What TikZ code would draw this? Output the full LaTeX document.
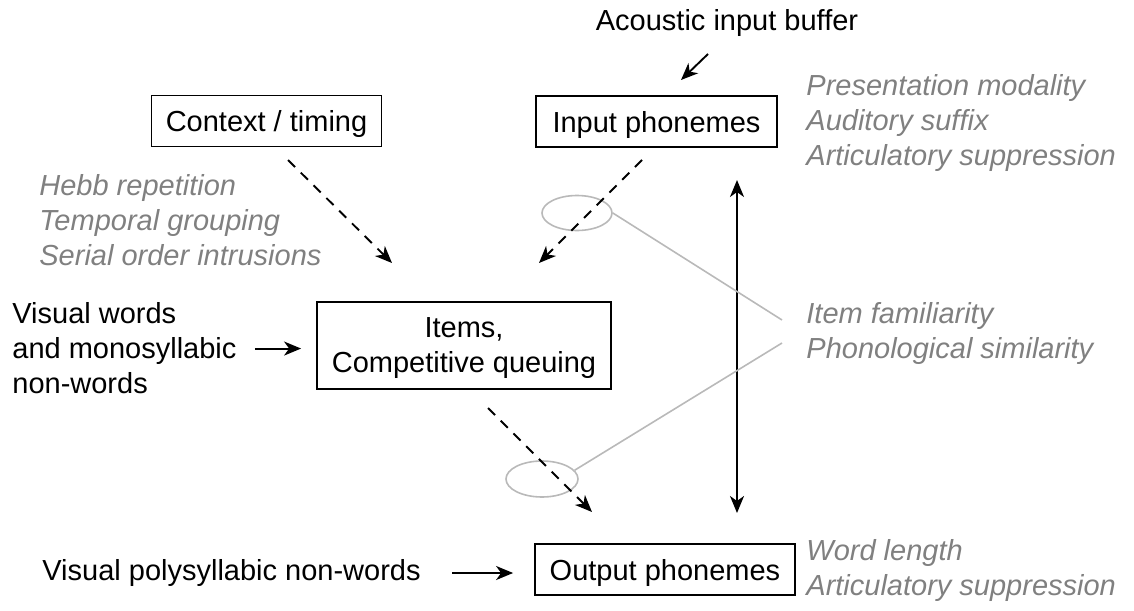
\documentclass[tikz,border=0pt]{standalone}
\usepackage{fontspec}
\setmainfont{Liberation Sans}
\usetikzlibrary{arrows.meta,shapes.geometric}
\definecolor{notegray}{RGB}{128,128,128}
\definecolor{linkgray}{RGB}{185,185,185}

\begin{document}
\begin{tikzpicture}[
  x=0.5pt,y=-0.5pt,
  >={Stealth[length=8.5pt,width=7pt,inset=2.5pt]},
  every node/.style={font=\fontsize{14.5}{17.5}\selectfont,inner sep=0pt},
  box/.style={draw,line width=0.9pt,minimum height=25.5pt,text depth=0pt},
  note/.style={text=notegray,font=\fontsize{14.5}{17.5}\selectfont\itshape,
    align=left,anchor=north west},
  flow/.style={line width=0.95pt,->},
  cue/.style={flow,dash pattern=on 5pt off 4pt},
  ring/.style={ellipse,draw=linkgray,line width=0.8pt,
    minimum width=35pt,minimum height=17.5pt},
  link/.style={draw=linkgray,line width=0.8pt},
  ]
  \useasboundingbox (0,0) rectangle (1134,610);
  % boxes
  \node[anchor=base] (buffer) at (727,30.5) {Acoustic input buffer};
  \node[box,minimum width=115pt] (context) at (266.5,121) {Context / timing};
  \node[box,minimum width=120.5pt] (input) at (656.5,121.5) {Input phonemes};
  \node[box,minimum width=147pt,minimum height=43.5pt,align=center]
    (items) at (464,345.5) {Items,\\Competitive queuing};
  \node[box,minimum width=130pt] (output) at (665,569.5) {Output phonemes};
  % inputs on the left
  \node[anchor=north west,align=left] (vwords) at (12,302.5)
    {Visual words\\and monosyllabic\\non-words};
  \node[anchor=base west] (vpoly) at (42,580.5) {Visual polysyllabic non-words};
  % effects
  \node[note] (hebb) at (39,174.5)
    {Hebb repetition\\Temporal grouping\\Serial order intrusions};
  \node[note] (modality) at (806,74.5)
    {Presentation modality\\Auditory suffix\\Articulatory suppression};
  \node[note] (familiarity) at (806,302.5)
    {Item familiarity\\Phonological similarity};
  \node[note] (length) at (806,539.5)
    {Word length\\Articulatory suppression};
  % markers
  \node[ring] (ringin) at (577,213) {};
  \node[ring,minimum width=36pt,minimum height=18pt] (ringout) at (542,479) {};

  \coordinate (bufout) at (708,54);
  \coordinate (bufin) at (681,80);
  \coordinate (ctxcue) at (288,160);
  \coordinate (ctxhit) at (392,263);
  \coordinate (incue) at (642,160);
  \coordinate (inhit) at (539,263);
  \coordinate (itemcue) at (488,408);
  \coordinate (itemhit) at (592,512);
  \coordinate (looptop) at (737,180);
  \coordinate (loopbot) at (737,513);
  \coordinate (famend) at (782,320);
  \coordinate (phonend) at (782,343);

  \draw[flow] (bufout) -- (bufin);
  \draw[cue] (ctxcue) -- (ctxhit);
  \draw[cue] (incue) -- (inhit);
  \draw[cue] (itemcue) -- (itemhit);
  \draw[flow,<->] (looptop) -- (loopbot);
  \draw[flow,shorten <=9pt,shorten >=7.5pt] (vwords.east) -- (vwords.east -| items.west);
  \draw[flow,shorten <=15.5pt,shorten >=10.5pt] (vpoly.east) -- (vpoly.east -| output.west);
  \draw[link] (ringin.east) -- (famend);
  \draw[link] (ringout.15) -- (phonend);
\end{tikzpicture}
\end{document}
